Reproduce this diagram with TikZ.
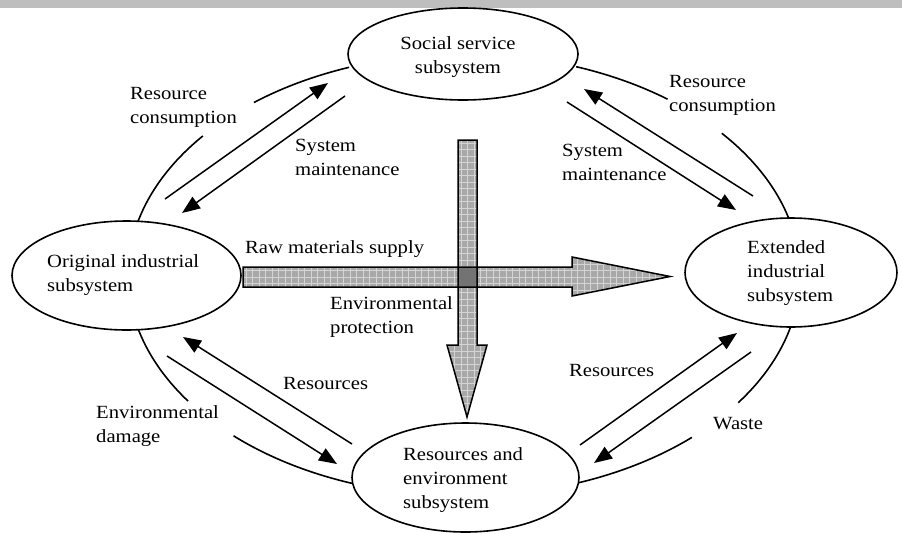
\documentclass[tikz,border=0pt]{standalone}
\usepackage{fontspec}
\setmainfont{Liberation Serif}[FakeStretch=1.11]
\usetikzlibrary{arrows.meta,shapes.geometric}
\definecolor{bargray}{RGB}{190,190,190}
\definecolor{fatgray}{RGB}{168,168,168}
\definecolor{gridgray}{RGB}{212,212,212}
\definecolor{crossgray}{RGB}{115,115,115}
\begin{document}
\begin{tikzpicture}[x=1pt,y=-1pt,
  lab/.style={anchor=west,align=left,inner sep=0pt,font=\fontsize{18.6}{24}\selectfont},
  clab/.style={anchor=center,align=center,inner sep=0pt,font=\fontsize{18.6}{24}\selectfont},
  sub/.style={draw,ellipse,line width=1.6pt,inner sep=0pt},
  flow/.style={line width=1.5pt,-{Triangle[length=18pt,width=14pt]}},
  ring/.style={line width=1.6pt,samples=40,variable=\t},
  fatfill/.style={fill=fatgray,draw=none},
  fatline/.style={draw=black,line width=1.5pt,line join=miter},
]
\useasboundingbox (0,0) rectangle (902,533);
\fill[bargray] (0,0) rectangle (902,7.5);

% subsystem ellipses
\node[sub,minimum width=230pt,minimum height=92pt] (soc) at (463,54) {};
\node[sub,minimum width=229pt,minimum height=109pt] (orig) at (126.5,275.5) {};
\node[sub,minimum width=212pt,minimum height=109pt] (ext) at (791,272.5) {};
\node[sub,minimum width=227pt,minimum height=109pt] (res) at (465.5,477.5) {};

\node[clab] (soct) at (458,57) {Social service\\subsystem};
\node[lab] (origt) at (47,275.5) {Original industrial\\subsystem};
\node[lab] (extt) at (747,273) {Extended\\industrial\\subsystem};
\node[lab] (rest) at (403,480) {Resources and\\environment\\subsystem};

% outer ring pieces
\draw[ring,domain=-166:-141] plot ({464+336*cos(\t)},{275+221*sin(\t)});
\draw[ring,domain=-128.7:-110] plot ({464+336*cos(\t)},{275+221*sin(\t)});
\draw[ring,domain=-70.5:-52.7] plot ({464+336*cos(\t)},{275+221*sin(\t)});
\draw[ring,domain=-39.9:-14.9] plot ({464+336*cos(\t)},{275+221*sin(\t)});
\draw[ring,domain=165.6:145.2] plot ({464+336*cos(\t)},{275+221*sin(\t)});
\draw[ring,domain=133.3:109.5] plot ({464+336*cos(\t)},{275+221*sin(\t)});
\draw[ring,domain=13.8:35.3] plot ({464+336*cos(\t)},{275+221*sin(\t)});
\draw[ring,domain=47.3:70] plot ({464+336*cos(\t)},{275+221*sin(\t)});

% thin arrows
\coordinate (tl1s) at (165,199); \coordinate (tl1e) at (328,83);
\coordinate (tl2s) at (345,96);  \coordinate (tl2e) at (182,213);
\coordinate (tr1s) at (753,196); \coordinate (tr1e) at (584,89);
\coordinate (tr2s) at (567,102); \coordinate (tr2e) at (736,210);
\coordinate (bl1s) at (352,444); \coordinate (bl1e) at (183,337);
\coordinate (bl2s) at (167,356); \coordinate (bl2e) at (337,464);
\coordinate (br1s) at (580,445); \coordinate (br1e) at (737,333);
\coordinate (br2s) at (751,352); \coordinate (br2e) at (594,463);
\foreach \a in {tl1,tl2,tr1,tr2,bl1,bl2,br1,br2}
  \draw[flow] (\a s) -- (\a e);

% fat arrows
\def\harrow{(243,267) -- (572,267) -- (572,257) -- (670,276.5) -- (572,296) -- (572,287) -- (243,287) -- cycle}
\def\varrow{(458,140) -- (477,140) -- (477,345) -- (487,345) -- (467,417) -- (447,345) -- (458,345) -- cycle}
\fill[fatfill] \harrow;
\fill[fatfill] \varrow;
\begin{scope}
  \clip \harrow;
  \foreach \gx in {246,252.5,...,670} \draw[gridgray,line width=0.8pt] (\gx,250) -- (\gx,300);
  \foreach \gy in {270.5,277,283.5,290} \draw[gridgray,line width=0.8pt] (240,\gy) -- (672,\gy);
  \foreach \gy in {257.5,264} \draw[gridgray,line width=0.8pt] (560,\gy) -- (672,\gy);
\end{scope}
\begin{scope}
  \clip \varrow;
  \foreach \gy in {143,149.5,...,418} \draw[gridgray,line width=0.8pt] (440,\gy) -- (490,\gy);
  \foreach \gx in {461,467.5,474} \draw[gridgray,line width=0.8pt] (\gx,138) -- (\gx,420);
  \foreach \gx in {448,454.5,480.5} \draw[gridgray,line width=0.8pt] (\gx,340) -- (\gx,420);
\end{scope}
\fill[crossgray] (458,267) rectangle (477,287);
\draw[fatline] \harrow;
\draw[fatline] \varrow;

% labels
\node[lab] (l1) at (130,107) {Resource\\consumption};
\node[lab] (l2) at (295,157.5) {System\\maintenance};
\node[lab] (l3) at (669,95.5) {Resource\\consumption};
\node[lab] (l4) at (562,162) {System\\maintenance};
\node[lab] (l5) at (245,249) {Raw materials supply};
\node[lab] (l6) at (330,317) {Environmental\\protection};
\node[lab] (l7) at (283,383) {Resources};
\node[lab] (l8) at (96,426.5) {Environmental\\damage};
\node[lab] (l9) at (569,370) {Resources};
\node[lab] (l10) at (713,424) {Waste};
\end{tikzpicture}
\end{document}
